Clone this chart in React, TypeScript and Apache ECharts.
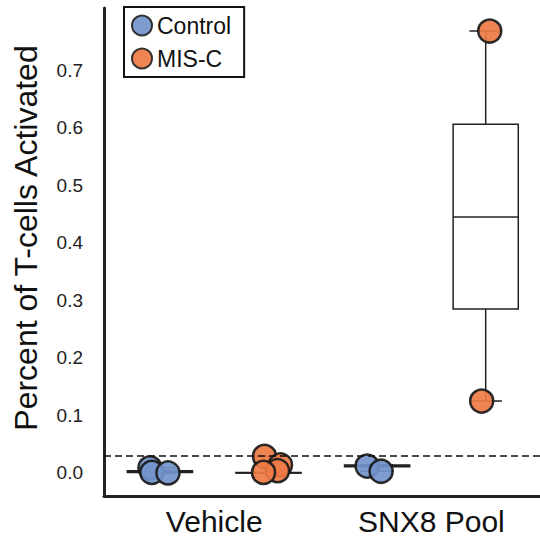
import React, { useEffect, useRef } from "react";
import * as echarts from "echarts";

// Group labels on the x axis and their positions (box slots 0..3)
const groupNames = ["Vehicle", "SNX8 Pool"];
const groupLabelPositions = [0.5, 2.5];

const seriesNames = ["Control", "MIS-C"];
const seriesColors = ["#7394cc", "#ef7b45"];

// Box statistics per slot: [slot, min, q1, median, q3, max]
const boxStats = [
  [0, 0.0, 0.001, 0.002, 0.004, 0.009],
  [1, 0.0, 0.0, 0.0, 0.001, 0.029],
  [2, 0.003, 0.011, 0.0125, 0.014, 0.014],
  [3, 0.125, 0.285, 0.445, 0.606, 0.768],
];

// Individual points: [slot + jitter, value]
const controlPoints = [
  [-0.092, 0.009],
  [-0.074, 0.001],
  [0.074, 0.0],
  [1.908, 0.012],
  [2.037, 0.003],
];
const misCPoints = [
  [0.963, 0.029],
  [1.11, 0.014],
  [1.083, 0.004],
  [0.954, 0.001],
  [3.037, 0.768],
  [2.963, 0.125],
];

const yTicks = [0, 0.1, 0.2, 0.3, 0.4, 0.5, 0.6, 0.7];
const thresholdValue = 0.03;
const yTitle = "Percent of T-cells Activated";

const FONT = "Liberation Sans, Arial, Helvetica, sans-serif";

export default function App() {
  const ref = useRef<HTMLDivElement>(null);

  useEffect(() => {
    if (!ref.current) return;
    const chart = echarts.init(ref.current, null, { renderer: "svg" });
    const boxWidth = 0.6;
    const stroke = "#222";

    const option: any = {
      animation: false,
      backgroundColor: "#ffffff",
      textStyle: { fontFamily: FONT },
      grid: {
        left: 104,
        right: 0,
        top: 8,
        bottom: 46,
        outerBoundsMode: "none",
      },
      legend: {
        orient: "vertical",
        left: 124,
        top: 7,
        padding: [7, 13, 7, 7],
        itemGap: 10,
        itemWidth: 20,
        itemHeight: 20,
        icon: "circle",
        borderColor: "#111",
        borderWidth: 2,
        borderRadius: 0,
        backgroundColor: "#fff",
        itemStyle: { borderColor: "#222", borderWidth: 2 },
        textStyle: { fontSize: 23, color: "#111", fontFamily: FONT },
        data: seriesNames,
      },
      xAxis: {
        type: "value",
        min: -0.515,
        max: 3.5,
        splitLine: { show: false },
        axisTick: { show: false },
        axisLine: { show: true, onZero: false, lineStyle: { color: stroke, width: 3 } },
        axisLabel: {
          customValues: groupLabelPositions,
          formatter: (v: number) => {
            const i = groupLabelPositions.findIndex((p) => Math.abs(p - v) < 1e-6);
            return i >= 0 ? groupNames[i] : "";
          },
          fontSize: 30,
          color: "#111",
          margin: 10,
          fontFamily: FONT,
        },
      },
      yAxis: {
        type: "value",
        min: -0.04,
        max: 0.808,
        splitLine: { show: false },
        axisTick: { show: false },
        axisLine: { show: true, onZero: false, lineStyle: { color: stroke, width: 3 } },
        axisLabel: {
          customValues: yTicks,
          formatter: (v: number) => v.toFixed(1),
          fontSize: 19,
          color: "#222",
          margin: 21,
          fontFamily: FONT,
        },
      },
      graphic: [
        {
          type: "text",
          x: 26,
          y: 238,
          rotation: Math.PI / 2,
          style: {
            text: yTitle,
            fontSize: 32,
            fill: "#111",
            align: "center",
            verticalAlign: "middle",
            fontFamily: FONT,
          },
        },
      ],
      series: [
        {
          type: "custom",
          z: 1,
          silent: true,
          data: boxStats,
          encode: { x: 0, y: [1, 2, 3, 4, 5] },
          renderItem: (params: any, api: any) => {
            const x = api.value(0);
            const mn = api.value(1);
            const q1 = api.value(2);
            const md = api.value(3);
            const q3 = api.value(4);
            const mx = api.value(5);
            const w = api.size([boxWidth, 0])[0];
            const hw = w / 2;
            const cw = w / 4;
            const pMin = api.coord([x, mn]);
            const pQ1 = api.coord([x, q1]);
            const pMd = api.coord([x, md]);
            const pQ3 = api.coord([x, q3]);
            const pMx = api.coord([x, mx]);
            const ls = { stroke, lineWidth: 1.5 };
            return {
              type: "group",
              children: [
                { type: "line", shape: { x1: pMin[0], y1: pMin[1], x2: pQ1[0], y2: pQ1[1] }, style: ls },
                { type: "line", shape: { x1: pQ3[0], y1: pQ3[1], x2: pMx[0], y2: pMx[1] }, style: ls },
                { type: "line", shape: { x1: pMin[0] - cw, y1: pMin[1], x2: pMin[0] + cw, y2: pMin[1] }, style: ls },
                { type: "line", shape: { x1: pMx[0] - cw, y1: pMx[1], x2: pMx[0] + cw, y2: pMx[1] }, style: ls },
                {
                  type: "rect",
                  shape: { x: pQ3[0] - hw, y: pQ3[1], width: w, height: pQ1[1] - pQ3[1] },
                  style: { fill: "#fff", stroke, lineWidth: 1.5 },
                },
                { type: "line", shape: { x1: pMd[0] - hw, y1: pMd[1], x2: pMd[0] + hw, y2: pMd[1] }, style: ls },
              ],
            };
          },
        },
        {
          name: seriesNames[0],
          type: "scatter",
          z: 3,
          symbolSize: 23,
          data: controlPoints,
          itemStyle: { color: seriesColors[0], borderColor: "#1a1a1a", borderWidth: 2.5, opacity: 0.92 },
          markLine: {
            silent: true,
            symbol: ["none", "none"],
            label: { show: false },
            lineStyle: { type: [7, 4], color: "#111", width: 1.6 },
            data: [{ yAxis: thresholdValue }],
          },
        },
        {
          name: seriesNames[1],
          type: "scatter",
          z: 3,
          symbolSize: 23,
          data: misCPoints,
          itemStyle: { color: seriesColors[1], borderColor: "#1a1a1a", borderWidth: 2.5, opacity: 0.92 },
        },
      ],
    };

    chart.setOption(option);
    return () => chart.dispose();
  }, []);

  return (
    <div
      ref={ref}
      style={{ position: "fixed", left: 0, top: 0, width: 540, height: 542, background: "#fff" }}
    />
  );
}
